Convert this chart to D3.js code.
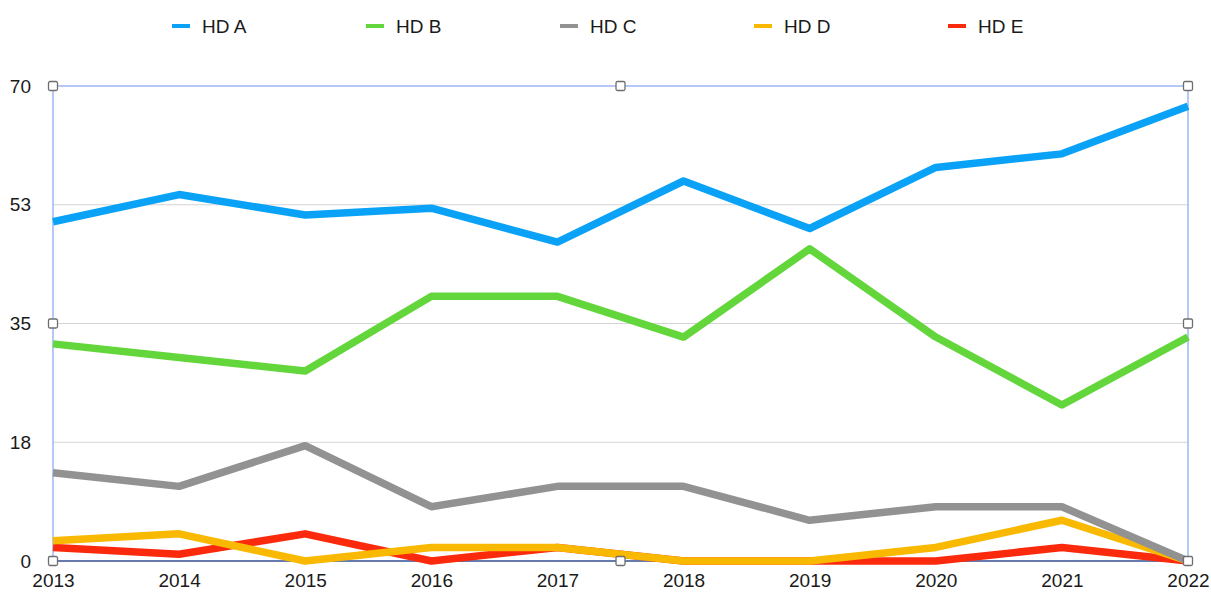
<!DOCTYPE html>
<html>
<head>
<meta charset="utf-8">
<script src="https://cdn.jsdelivr.net/npm/d3@7"></script>
<style>
  body { margin: 0; background: #fff; }
  svg { font-family: "Liberation Sans", Arial, Helvetica, sans-serif; }
</style>
</head>
<body>
<div class="chart"></div>
<script>
var years = ['2013', '2014', '2015', '2016', '2017', '2018', '2019', '2020', '2021', '2022'];
var seriesNames = ['HD A', 'HD B', 'HD C', 'HD D', 'HD E'];
var hdA = [50, 54, 51, 52, 47, 56, 49, 58, 60, 67];
var hdB = [32, 30, 28, 39, 39, 33, 46, 33, 23, 33];
var hdC = [13, 11, 17, 8, 11, 11, 6, 8, 8, 0];
var hdD = [3, 4, 0, 2, 2, 0, 0, 2, 6, 0];
var hdE = [2, 1, 4, 0, 2, 0, 0, 0, 2, 0];
var yTicks = [0, 17.5, 35, 52.5, 70];
var colors = ['#0aa2f7', '#62d63a', '#929292', '#f9b900', '#fb2a0c'];

var seriesValues = [hdA, hdB, hdC, hdD, hdE];

var fullWidth = 1211;
var fullHeight = 608;
var margin = { top: 86, right: 23, bottom: 47, left: 53 };
var width = fullWidth - margin.left - margin.right;
var height = fullHeight - margin.top - margin.bottom;

var svg = d3.select('.chart')
            .append('svg')
            .attr('width', fullWidth)
            .attr('height', fullHeight);

var g = svg.append('g')
           .attr('transform', 'translate(' + margin.left + ',' + margin.top + ')');

var x = d3.scalePoint()
          .domain(years)
          .range([0, width]);

var y = d3.scaleLinear()
          .domain([0, 70])
          .range([height, 0]);

// gridlines
g.selectAll('.grid')
 .data(yTicks.filter(function (t) { return t > 0 && t < 70; }))
 .enter().append('line')
 .attr('x1', 0)
 .attr('x2', width)
 .attr('y1', function (d) { return y(d); })
 .attr('y2', function (d) { return y(d); })
 .attr('stroke', '#d4d4d4')
 .attr('stroke-width', 1);

// y axis labels
var yAxis = d3.axisLeft(y)
              .tickValues(yTicks)
              .tickSize(0)
              .tickPadding(22)
              .tickFormat(function (d) { return Math.round(d); });
var ya = g.append('g').call(yAxis);
ya.select('.domain').remove();
ya.selectAll('text').attr('font-size', 19).attr('fill', '#1a1a1a').attr('font-family', null);

// x axis labels
var xAxis = d3.axisBottom(x).tickSize(0).tickPadding(13);
var xa = g.append('g').attr('transform', 'translate(0,' + height + ')').call(xAxis);
xa.select('.domain').remove();
xa.selectAll('text').attr('font-size', 19).attr('fill', '#1a1a1a').attr('font-family', null);

// selection frame
g.append('rect')
 .attr('x', 0).attr('y', 0)
 .attr('width', width).attr('height', height)
 .attr('fill', 'none')
 .attr('stroke', '#9fb8f3')
 .attr('stroke-width', 1.5);

// baseline
g.append('line')
 .attr('x1', 0).attr('x2', width)
 .attr('y1', y(0)).attr('y2', y(0))
 .attr('stroke', '#4b5f96')
 .attr('stroke-width', 1.5);

// lines, drawn last series first
var line = d3.line()
             .x(function (d, i) { return x(years[i]); })
             .y(function (d) { return y(d); });

var order = d3.range(seriesValues.length).reverse();
g.selectAll('.series')
 .data(order)
 .enter().append('path')
 .attr('d', function (i) { return line(seriesValues[i]); })
 .attr('fill', 'none')
 .attr('stroke', function (i) { return colors[i]; })
 .attr('stroke-width', 7.5)
 .attr('stroke-linejoin', 'round');

// handles
var handles = [[0, 0], [0.5, 0], [1, 0], [0, 0.5], [1, 0.5], [0, 1], [0.5, 1], [1, 1]];
g.selectAll('.handle')
 .data(handles)
 .enter().append('rect')
 .attr('x', function (d) { return d[0] * width - 4.5; })
 .attr('y', function (d) { return d[1] * height - 4.5; })
 .attr('width', 9).attr('height', 9)
 .attr('rx', 1.5)
 .attr('fill', '#fff')
 .attr('stroke', '#6e6e6e')
 .attr('stroke-width', 1.3);

// legend
var legend = svg.append('g').attr('transform', 'translate(172,26)');
var item = legend.selectAll('.item')
                 .data(seriesNames)
                 .enter().append('g')
                 .attr('transform', function (d, i) { return 'translate(' + (i * 194) + ',0)'; });
item.append('line')
    .attr('x1', 0).attr('x2', 18)
    .attr('stroke', function (d, i) { return colors[i]; })
    .attr('stroke-width', 4);
item.append('text')
    .attr('x', 30)
    .attr('dy', '0.35em')
    .attr('font-size', 19)
    .attr('fill', '#1a1a1a')
    .text(function (d) { return d; });
</script>
</body>
</html>
